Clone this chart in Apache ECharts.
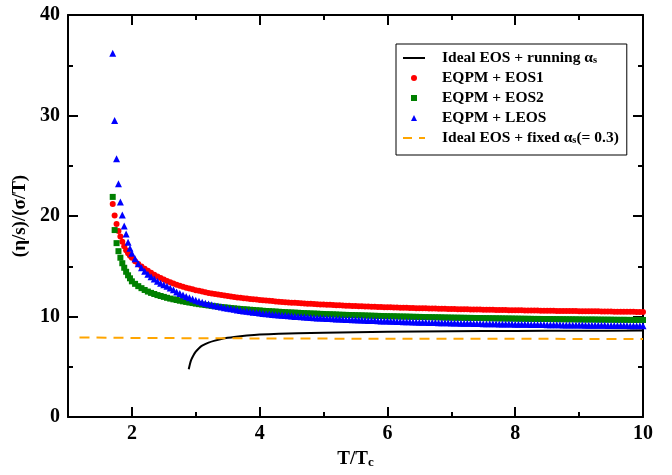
<!DOCTYPE html>
<html><head><meta charset="utf-8">
<script src="https://cdn.jsdelivr.net/npm/echarts@6/dist/echarts.min.js"></script>
<style>html,body{margin:0;padding:0;background:#fff}#c{width:672px;height:475px}</style>
</head><body><div id="c"></div>
<script>
// ---- data ----
const tGrid = [1.70,1.73,1.76,1.79,1.82,1.85,1.88,1.91,1.94,1.97,
  2.00,2.05,2.10,2.15,2.20,2.25,2.30,2.35,2.40,2.45,2.50,2.55,2.60,2.65,2.70,2.75,2.80,2.85,2.90,2.95,
  3.00,3.05,3.10,3.15,3.20,3.25,3.30,3.35,3.40,3.45,3.50,3.55,3.60,3.65,3.70,3.75,3.80,3.85,3.90,3.95,
  4.00,4.05,4.10,4.15,4.20,4.25,4.30,4.35,4.40,4.45,4.50,4.55,4.60,4.65,4.70,4.75,4.80,4.85,4.90,4.95,
  5.00,5.05,5.10,5.15,5.20,5.25,5.30,5.35,5.40,5.45,5.50,5.55,5.60,5.65,5.70,5.75,5.80,5.85,5.90,5.95,
  6.00,6.05,6.10,6.15,6.20,6.25,6.30,6.35,6.40,6.45,6.50,6.55,6.60,6.65,6.70,6.75,6.80,6.85,6.90,6.95,
  7.00,7.05,7.10,7.15,7.20,7.25,7.30,7.35,7.40,7.45,7.50,7.55,7.60,7.65,7.70,7.75,7.80,7.85,7.90,7.95,
  8.00,8.05,8.10,8.15,8.20,8.25,8.30,8.35,8.40,8.45,8.50,8.55,8.60,8.65,8.70,8.75,8.80,8.85,8.90,8.95,
  9.00,9.05,9.10,9.15,9.20,9.25,9.30,9.35,9.40,9.45,9.50,9.55,9.60,9.65,9.70,9.75,9.80,9.85,9.90,9.95,
  10.00];
const eqpmEos1 = [21.2,20.05,19.2,18.5,17.95,17.45,17.0,16.6,16.3,16.05,
  15.85,15.5,15.22,14.98,14.76,14.55,14.35,14.16,13.98,13.82,13.67,13.53,13.40,13.28,13.17,13.06,12.96,12.87,12.78,12.70,
  12.62,12.55,12.48,12.41,12.35,12.29,12.23,12.18,12.13,12.08,12.03,11.98,11.94,11.90,11.86,11.82,11.78,11.74,11.71,11.68,
  11.65,11.62,11.59,11.56,11.53,11.50,11.48,11.45,11.43,11.40,11.38,11.36,11.34,11.32,11.30,11.28,11.26,11.24,11.22,11.20,
  11.19,11.17,11.16,11.14,11.13,11.11,11.10,11.08,11.07,11.05,11.04,11.02,11.01,11.00,10.99,10.98,10.97,10.95,10.94,10.93,
  10.92,10.91,10.90,10.89,10.88,10.87,10.86,10.85,10.84,10.83,10.82,10.815,10.81,10.80,10.79,10.785,10.78,10.77,10.76,10.75,
  10.74,10.735,10.73,10.725,10.72,10.71,10.70,10.695,10.69,10.685,10.68,10.675,10.67,10.66,10.65,10.645,10.64,10.635,10.63,10.625,
  10.62,10.615,10.61,10.605,10.60,10.595,10.59,10.585,10.58,10.575,10.57,10.565,10.56,10.555,10.55,10.55,10.55,10.545,10.54,10.535,
  10.53,10.525,10.52,10.515,10.51,10.51,10.51,10.505,10.50,10.495,10.49,10.485,10.48,10.48,10.48,10.475,10.47,10.465,10.46,10.46,
  10.46];
const eqpmEos2 = [21.9,18.6,17.3,16.5,15.85,15.3,14.85,14.45,14.1,13.8,
  13.5,13.25,13.02,12.82,12.64,12.48,12.35,12.24,12.13,12.04,11.95,11.86,11.78,11.71,11.64,11.57,11.51,11.45,11.39,11.34,
  11.28,11.23,11.19,11.14,11.10,11.06,11.02,10.98,10.94,10.91,10.88,10.84,10.81,10.78,10.75,10.72,10.70,10.67,10.65,10.62,
  10.60,10.57,10.55,10.53,10.51,10.49,10.47,10.45,10.43,10.41,10.40,10.38,10.37,10.35,10.33,10.32,10.30,10.29,10.28,10.26,
  10.25,10.23,10.22,10.21,10.20,10.18,10.17,10.16,10.15,10.14,10.13,10.12,10.11,10.10,10.09,10.08,10.07,10.06,10.05,10.04,
  10.03,10.025,10.02,10.01,10.00,9.995,9.99,9.98,9.97,9.965,9.96,9.95,9.94,9.935,9.93,9.925,9.92,9.91,9.90,9.895,
  9.89,9.885,9.88,9.875,9.87,9.865,9.86,9.855,9.85,9.845,9.84,9.835,9.83,9.825,9.82,9.815,9.81,9.805,9.80,9.795,
  9.79,9.785,9.78,9.775,9.77,9.765,9.76,9.758,9.755,9.752,9.75,9.745,9.74,9.735,9.73,9.728,9.725,9.722,9.72,9.715,
  9.71,9.705,9.70,9.70,9.70,9.695,9.69,9.688,9.685,9.682,9.68,9.675,9.67,9.67,9.67,9.665,9.66,9.658,9.655,9.652,
  9.65];
const eqpmLeos = [36.2,29.5,25.7,23.2,21.4,20.1,19.0,18.2,17.4,16.8,
  16.3,15.75,15.25,14.85,14.5,14.2,13.95,13.72,13.5,13.32,13.15,13.0,12.84,12.65,12.45,12.28,12.13,11.99,11.86,11.73,
  11.62,11.52,11.42,11.33,11.24,11.16,11.08,11.01,10.94,10.88,10.82,10.76,10.71,10.65,10.60,10.55,10.51,10.47,10.43,10.39,
  10.35,10.31,10.28,10.24,10.21,10.18,10.15,10.12,10.10,10.07,10.04,10.01,9.99,9.97,9.95,9.92,9.90,9.88,9.86,9.84,
  9.83,9.81,9.79,9.77,9.76,9.74,9.72,9.70,9.69,9.68,9.67,9.65,9.64,9.62,9.61,9.60,9.59,9.57,9.56,9.55,
  9.54,9.53,9.52,9.51,9.50,9.49,9.48,9.47,9.46,9.45,9.44,9.43,9.42,9.415,9.41,9.40,9.39,9.385,9.38,9.37,
  9.36,9.355,9.35,9.34,9.33,9.325,9.32,9.315,9.31,9.30,9.29,9.285,9.28,9.275,9.27,9.265,9.26,9.255,9.25,9.245,
  9.24,9.235,9.23,9.225,9.22,9.215,9.21,9.205,9.20,9.195,9.19,9.185,9.18,9.175,9.17,9.165,9.16,9.158,9.155,9.152,
  9.15,9.145,9.14,9.135,9.13,9.128,9.125,9.122,9.12,9.115,9.11,9.105,9.10,9.10,9.10,9.095,9.09,9.085,9.08,9.08,
  9.08];
const runningT = [2.89,2.91,2.93,2.96,3.0,3.05,3.1,3.2,3.3,3.4,3.5,3.6,3.8,4.0,4.3,4.6,5.0,5.5,6.0,7.0,8.0,9.0,10.0];
const runningV = [4.75,5.3,5.7,6.1,6.5,6.85,7.1,7.4,7.6,7.76,7.88,7.97,8.1,8.2,8.29,8.34,8.39,8.44,8.48,8.53,8.56,8.58,8.6];
const fixedT = [1.18,2,3,4,5,6,7,8,9,10];
const fixedV = [7.92,7.87,7.84,7.82,7.80,7.79,7.78,7.78,7.77,7.77];
const xMajorTicks = [2,4,6,8,10];
const xMinorTicks = [3,5,7,9];
const seriesNames = ['Ideal EOS + running αs','EQPM + EOS1','EQPM + EOS2','EQPM + LEOS','Ideal EOS + fixed αs(= 0.3)'];
const legendRich = ['{g|}{t|Ideal EOS + running α}{s|s}','{g|}{t|EQPM + EOS1}','{g|}{t|EQPM + EOS2}','{g|}{t|EQPM + LEOS}','{g|}{t|Ideal EOS + fixed α}{s|s}{t|(= 0.3)}'];

// ---- chart ----
const F = 'Liberation Serif';
const chart = echarts.init(document.getElementById('c'), null, {renderer:'canvas'});
const lineBlack = {color:'#000', width:2};
function xAx(pos, vals, len, showLine, showLabel, extra) {
  return Object.assign({
    type:'value', position:pos, min:1, max:10,
    axisLine:{show:showLine, onZero:false, lineStyle:lineBlack},
    axisTick:{show:true, inside:true, length:len, customValues:vals, lineStyle:lineBlack},
    axisLabel:{show:showLabel, customValues:vals, fontFamily:F, fontWeight:'bold', fontSize:20, color:'#000', margin:7},
    splitLine:{show:false}
  }, extra || {});
}
function yAx(pos, showLabel, extra) {
  return Object.assign({
    type:'value', position:pos, min:0, max:40, interval:10,
    axisLine:{show:true, onZero:false, lineStyle:lineBlack},
    axisTick:{show:true, inside:true, length:10, lineStyle:lineBlack},
    minorTick:{show:true, splitNumber:2, length:5, lineStyle:lineBlack},
    axisLabel:{show:showLabel, fontFamily:F, fontWeight:'bold', fontSize:20, color:'#000', margin:8},
    splitLine:{show:false}, minorSplitLine:{show:false}
  }, extra || {});
}
const nameMap = {};
seriesNames.forEach((n,i)=>{ nameMap[n] = legendRich[i]; });

chart.setOption({
  animation:false,
  backgroundColor:'#fff',
  grid:{left:68, right:29, top:15, bottom:58, outerBoundsMode:'none', containLabel:false},
  xAxis:[
    xAx('bottom', xMajorTicks, 10, true, true, {
      name:'{t|T/T}{s|c}', nameLocation:'middle', nameGap:33,
      nameTextStyle:{rich:{
        t:{fontFamily:F, fontWeight:'bold', fontSize:19, color:'#000', verticalAlign:'middle', lineHeight:19},
        s:{fontFamily:F, fontWeight:'bold', fontSize:13, color:'#000', verticalAlign:'bottom', lineHeight:2}}}
    }),
    xAx('bottom', xMinorTicks, 5, false, false),
    xAx('top', xMajorTicks, 10, true, false),
    xAx('top', xMinorTicks, 5, false, false)
  ],
  yAxis:[
    yAx('left', true, {name:'(η/s)/(σ/T)', nameLocation:'middle', nameGap:35,
      nameTextStyle:{fontFamily:F, fontWeight:'bold', fontSize:19, color:'#000'}}),
    yAx('right', false)
  ],
  legend:{
    orient:'vertical', left:396, top:44,
    padding:[6,8,9,7], itemGap:4, itemWidth:22, itemHeight:6,
    borderColor:'#000', borderWidth:1, borderRadius:0, backgroundColor:'#fff',
    selectedMode:false, symbolKeepAspect:true,
    data:[
      {name:seriesNames[0], icon:'path://M0,0 L22,0 L22,2 L0,2 Z', itemStyle:{color:'#000'}},
      {name:seriesNames[1], icon:'circle'},
      {name:seriesNames[2], icon:'path://M0,0 L1,0 L1,1 L0,1 Z'},
      {name:seriesNames[3], icon:'path://M0.5,0 L1,1 L0,1 Z'},
      {name:seriesNames[4], icon:'path://M0,0 L9,0 L9,2 L0,2 Z M16,0 L22,0 L22,2 L16,2 Z', itemStyle:{color:'#ffa500'}}
    ],
    formatter: n => nameMap[n],
    textStyle:{color:'#000', rich:{
      g:{width:12},
      t:{fontFamily:F, fontWeight:'bold', fontSize:15.5, color:'#000', verticalAlign:'middle', lineHeight:16},
      s:{fontFamily:F, fontWeight:'bold', fontSize:10.5, color:'#000', verticalAlign:'bottom', lineHeight:2}
    }}
  },
  series:[
    {name:seriesNames[0], type:'line', xAxisIndex:0, yAxisIndex:0, symbol:'none', smooth:0.3,
      lineStyle:{color:'#000', width:2}, itemStyle:{color:'#000'},
      data: runningT.map((t,i)=>[t, runningV[i]]), z:3},
    {name:seriesNames[1], type:'scatter', xAxisIndex:0, yAxisIndex:0, symbol:'circle', symbolSize:6,
      itemStyle:{color:'#ff0000', opacity:1}, data: tGrid.map((t,i)=>[t, eqpmEos1[i]]), z:2},
    {name:seriesNames[2], type:'scatter', xAxisIndex:0, yAxisIndex:0, symbol:'rect', symbolSize:6,
      itemStyle:{color:'#008000', opacity:1}, data: tGrid.map((t,i)=>[t, eqpmEos2[i]]), z:2},
    {name:seriesNames[3], type:'scatter', xAxisIndex:0, yAxisIndex:0, symbol:'triangle', symbolSize:7,
      itemStyle:{color:'#0000ff', opacity:1}, data: tGrid.map((t,i)=>[t, eqpmLeos[i]]), z:2},
    {name:seriesNames[4], type:'line', xAxisIndex:0, yAxisIndex:0, symbol:'none',
      lineStyle:{color:'#ffa500', width:2, type:[10,7]}, itemStyle:{color:'#ffa500'},
      data: fixedT.map((t,i)=>[t, fixedV[i]]), z:3}
  ]
});
</script>
</body></html>
